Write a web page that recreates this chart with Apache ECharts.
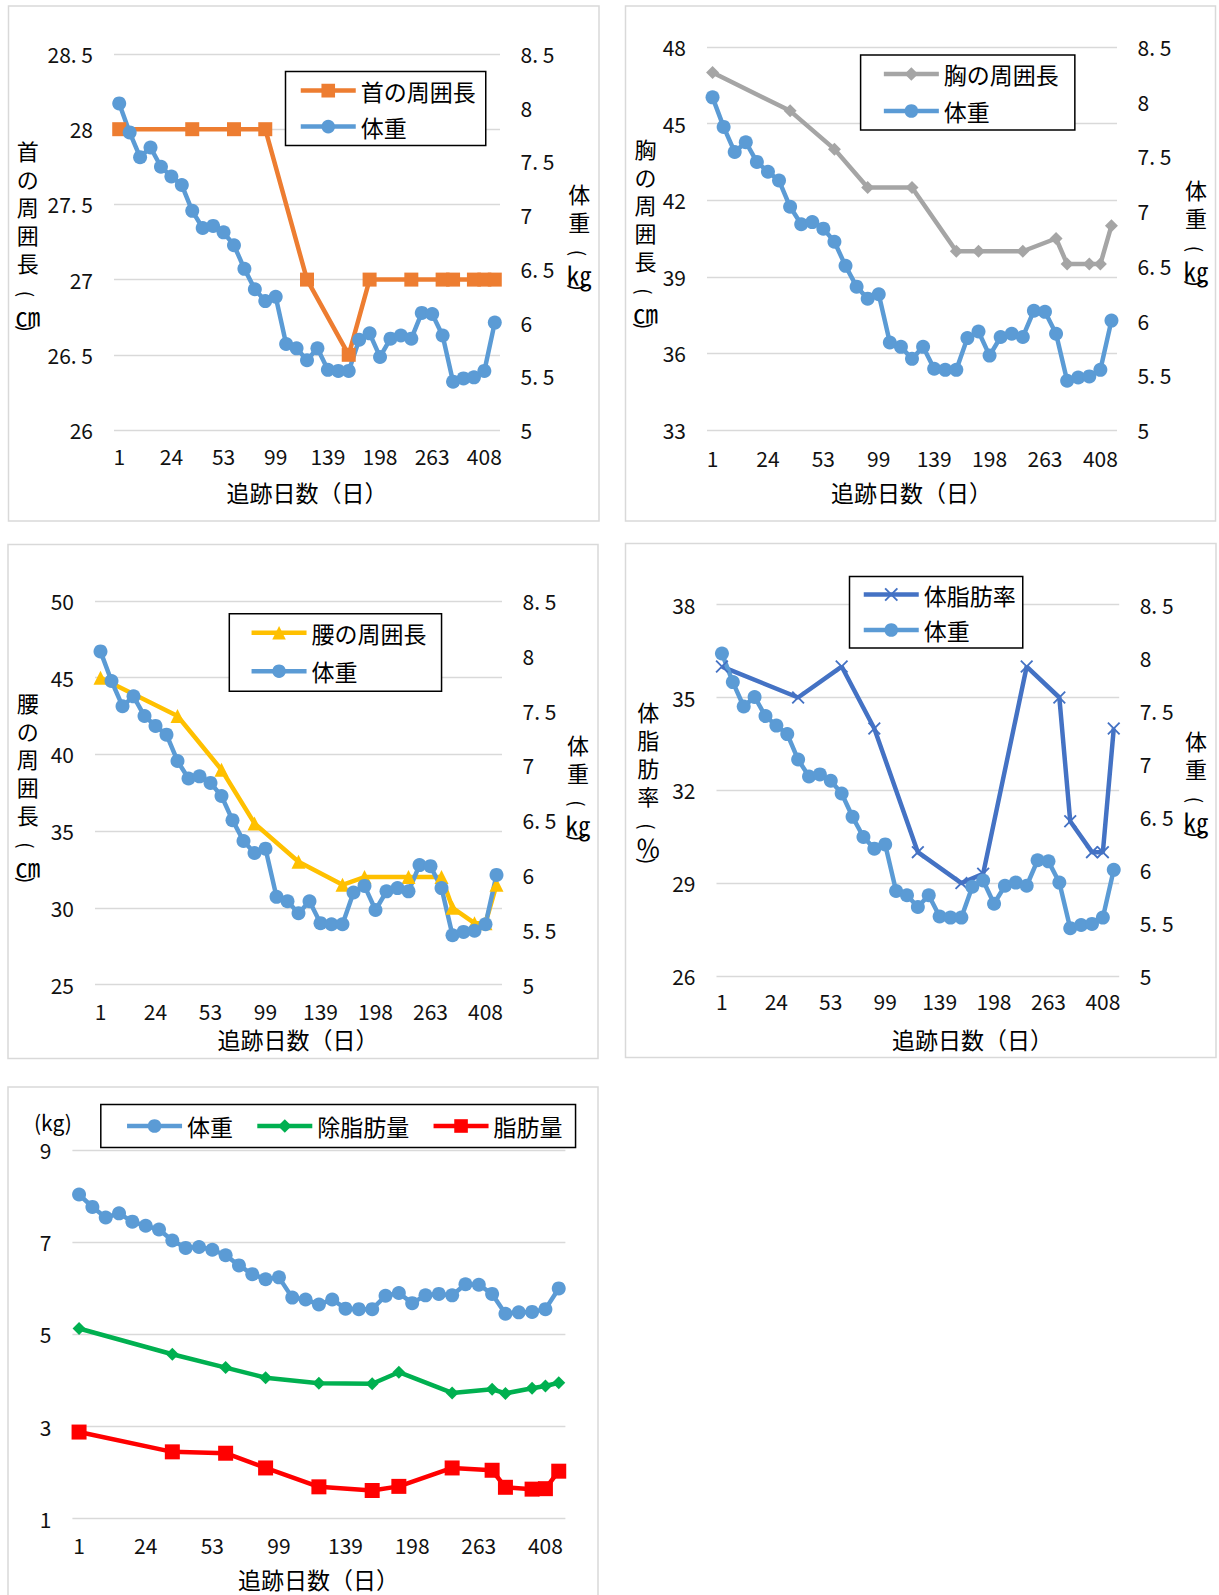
<!DOCTYPE html>
<html><head><meta charset="utf-8">
<script src="https://cdn.jsdelivr.net/npm/echarts@6/dist/echarts.min.js"></script>
<style>html,body{margin:0;padding:0;background:#fff}#c{width:1219px;height:1595px}</style>
</head><body><div id="c"></div>
<script>
// ---------- data ----------
const days = ['1','4','8','12','18','24','29','35','39','46','53','60','67','74','88','99','106','113','120','127','139','148','162','176','183','198','212','226','240','253','263','288','316','345','379','408','440'];
const weight = [8.04,7.77,7.54,7.63,7.45,7.36,7.28,7.04,6.88,6.90,6.84,6.72,6.50,6.31,6.20,6.24,5.80,5.76,5.65,5.76,5.56,5.55,5.55,5.84,5.90,5.68,5.85,5.88,5.85,6.09,6.08,5.88,5.45,5.48,5.49,5.55,6.00];
const measureDays = ['1','35','60','88','120','162','183','240','288','316','379','408','440'];
const neck = [28,28,28,28,27,26.5,27,27,27,27,27,27,27];
const chest = [47,45.5,44,42.5,42.5,40,40,40,40.5,39.5,39.5,39.5,41];
const waist = [45,42.5,39,35.5,33,31.5,32,32,32,30,29,29,31.5];
const bodyFat = [36,35,36,34,30,29,29.3,36,35,31,30,30,34];
const leanMass = [5.13,4.57,4.28,4.06,3.94,3.93,4.18,3.73,3.81,3.72,3.83,3.88,3.95];
const fatMass = [2.88,2.45,2.42,2.10,1.69,1.61,1.70,2.10,2.05,1.68,1.64,1.65,2.03];
const fatPctTicks = [26,29,32,35,38];
const massTicks = [1,3,5,7,9];

const N_NECK='首の周囲長', N_W='体重', N_CHEST='胸の周囲長', N_WAIST='腰の周囲長', N_FAT='体脂肪率', N_LEAN='除脂肪量', N_FATM='脂肪量';
const xTitle = '追跡日数（日）';

// ---------- styles ----------
const FONT = '"Noto Sans CJK JP","Noto Sans CJK SC",sans-serif';
const C = {neck:'#ED7D31', w:'#5B9BD5', chest:'#A5A5A5', waist:'#FFC000', fat:'#4472C4', lean:'#00B050', fatm:'#FF0000'};
const XSYM = 'path://M1,0 L5,4 L9,0 L10,1 L6,5 L10,9 L9,10 L5,6 L1,10 L0,9 L4,5 L0,1 Z';
const LW = 4.5;
const fmt = v => String(v).replace('.', '. ');
const pair = arr => measureDays.map((d,i)=>[d, arr[i]]);

const grids = [
  {left:114, top:54, width:386, height:376},
  {left:707, top:47, width:410, height:383},
  {left:95, top:601, width:407, height:383.5},
  {left:716.5, top:604.7, width:402.7, height:371.2},
  {left:72.4, top:1150.3, width:493, height:368.3}
].map(g=>Object.assign({containLabel:false, outerBoundsMode:'none'}, g));

const xMargins = [15.5,17,16,15,16];
const xAxis = grids.map((g,i)=>({
  type:'category', gridIndex:i, data:days, boundaryGap:true,
  axisLine:{show:false}, axisTick:{show:false}, splitLine:{show:false},
  axisLabel:{interval:4, fontSize:21, color:'#111', margin:xMargins[i], fontFamily:FONT}
}));

const split = {show:true, lineStyle:{color:'#d9d9d9', width:1.4}};
function leftY(gi, extra){ return Object.assign({type:'value', gridIndex:gi, position:'left',
  axisLine:{show:false}, axisTick:{show:false}, splitLine:split,
  axisLabel:{fontSize:21, color:'#111', margin:21, fontFamily:FONT, formatter:fmt}}, extra); }
function rightY(gi){ return {type:'value', gridIndex:gi, position:'right', min:5, max:8.5, interval:0.5,
  axisLine:{show:false}, axisTick:{show:false}, splitLine:{show:false},
  axisLabel:{fontSize:21, color:'#111', margin:20.5, fontFamily:FONT, formatter:fmt}}; }

const yAxis = [
  leftY(0,{min:26,max:28.5,interval:0.5}), rightY(0),
  leftY(1,{min:33,max:48,interval:3}), rightY(1),
  leftY(2,{min:25,max:50,interval:5}), rightY(2),
  leftY(3,{min:26,max:38,splitNumber:4, axisTick:{show:false, customValues:fatPctTicks}}), rightY(3),
  leftY(4,{min:1,max:9,splitNumber:4, axisTick:{show:false, customValues:massTicks}})
];
yAxis[6].axisLabel.customValues = fatPctTicks;
yAxis[8].axisLabel.customValues = massTicks;

function line(name, data, xi, yi, color, symbol, size){
  return {type:'line', name, data, xAxisIndex:xi, yAxisIndex:yi, symbol, symbolSize:size,
    showAllSymbol:true, showSymbol:true, connectNulls:true,
    lineStyle:{color:color, width:LW, type:'solid'}, itemStyle:{color:color, borderWidth:0},
    emphasis:{disabled:true}, silent:true};
}
const series = [
  line(N_NECK, pair(neck), 0, 0, C.neck, 'rect', 14),
  line(N_W, weight, 0, 1, C.w, 'circle', 14),
  line(N_CHEST, pair(chest), 1, 2, C.chest, 'diamond', 13),
  line(N_W, weight, 1, 3, C.w, 'circle', 14),
  line(N_WAIST, pair(waist), 2, 4, C.waist, 'triangle', 14),
  line(N_W, weight, 2, 5, C.w, 'circle', 14),
  line(N_FAT, pair(bodyFat), 3, 6, C.fat, XSYM, 13),
  line(N_W, weight, 3, 7, C.w, 'circle', 14),
  line(N_W, weight, 4, 8, C.w, 'circle', 14),
  line(N_LEAN, pair(leanMass), 4, 8, C.lean, 'diamond', 13),
  line(N_FATM, pair(fatMass), 4, 8, C.fatm, 'rect', 15)
];

const legBase = {itemWidth:55, itemHeight:17, borderColor:'#000', borderWidth:1.5, backgroundColor:'#fff',
  selectedMode:false, lineStyle:{width:LW}, textStyle:{fontSize:23, lineHeight:26, color:'#000', fontFamily:FONT}, z:10};
const legend = [
  Object.assign({}, legBase, {data:[N_NECK,N_W], orient:'vertical', left:285.5, top:71.6, padding:[6,10,6,13], itemGap:10}),
  Object.assign({}, legBase, {data:[N_CHEST,N_W], orient:'vertical', left:860.6, top:55, padding:[6,16,6,21], itemGap:11}),
  Object.assign({}, legBase, {data:[N_WAIST,N_W], orient:'vertical', left:229.3, top:613.7, padding:[6,15,7,20], itemGap:12.5}),
  Object.assign({}, legBase, {data:[N_FAT,N_W], orient:'vertical', left:849.5, top:576.5, padding:[5,7,5,12], itemGap:9.5}),
  Object.assign({}, legBase, {data:[N_W,N_LEAN,N_FATM], orient:'horizontal', left:100.8, top:1104.5, padding:[8.5,13,8.5,24], itemGap:22})
];

// ---------- text / frames ----------
function txt(text, x, y, size, rot){
  return {type:'text', x, y, rotation:rot||0, silent:true, z:5,
    style:{text, fill:'#000', font:size+'px '+FONT, fontSize:size, fontFamily:FONT,
      align:'center', verticalAlign:'middle', textAlign:'center', textVerticalAlign:'middle'}};
}
function vTitle(chars, unit, x, y0){
  const els = chars.map((c,i)=>txt(c, x, y0+28*i, 22));
  const yl = y0 + 28*(chars.length-1);
  els.push(txt('(', x, yl+32, 19, -Math.PI/2));
  els.push(txt(unit, x, yl+52.5, 25));
  els.push(txt(')', x, yl+66.5, 19, -Math.PI/2));
  return els;
}
function frame(x,y,w,h){ return {type:'rect', silent:true, z:-1, shape:{x,y,width:w,height:h}, style:{fill:'none', stroke:'#d9d9d9', lineWidth:1.5}}; }

const graphic = [].concat(
  [frame(8.5,6,590.5,515), frame(625.5,6,590,515), frame(8,544.5,590,514), frame(625.5,543.5,590.5,514), frame(8,1087,590,520)],
  vTitle(['首','の','周','囲','長'], '㎝', 27.7, 150),
  vTitle(['体','重'], '㎏', 579.3, 193),
  vTitle(['胸','の','周','囲','長'], '㎝', 645.4, 147.5),
  vTitle(['体','重'], '㎏', 1196, 189),
  vTitle(['腰','の','周','囲','長'], '㎝', 27.7, 701.5),
  vTitle(['体','重'], '㎏', 578, 743.5),
  vTitle(['体','脂','肪','率'], '％', 648.2, 710.5),
  vTitle(['体','重'], '㎏', 1196, 740),
  [txt(xTitle, 307, 492.4, 23), txt(xTitle, 911.4, 492.4, 23), txt(xTitle, 298, 1038.5, 23), txt(xTitle, 972.6, 1038.5, 23), txt(xTitle, 318.4, 1579, 23)],
  [txt('(kg)', 52.9, 1121.9, 21)]
);

const chart = echarts.init(document.getElementById('c'), null, {renderer:'svg', width:1219, height:1595});
chart.setOption({
  animation:false, backgroundColor:'#fff', textStyle:{fontFamily:FONT},
  grid:grids, xAxis, yAxis, series, legend, graphic
});
</script></body></html>
